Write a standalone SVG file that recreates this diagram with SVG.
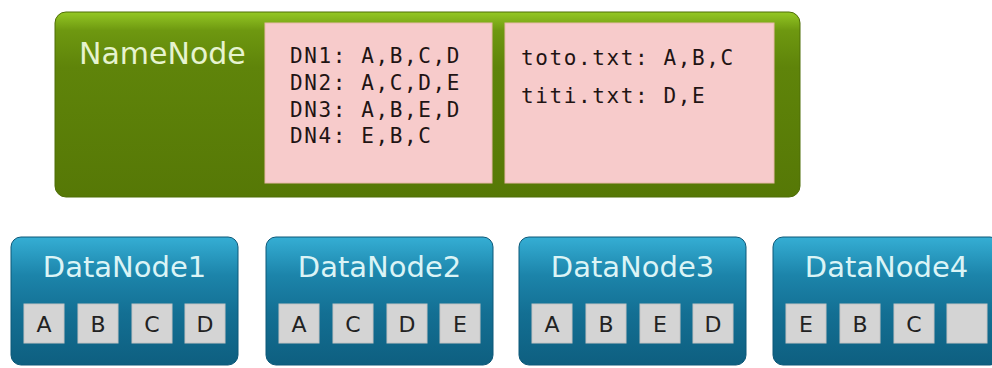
<svg xmlns="http://www.w3.org/2000/svg" width="992" height="368" viewBox="0 0 992 368">
<defs>
<linearGradient id="gGreen" x1="0" y1="0" x2="0" y2="1">
<stop offset="0" stop-color="#94c824"/>
<stop offset="0.1" stop-color="#6e9810"/>
<stop offset="0.3" stop-color="#5f840a"/>
<stop offset="1" stop-color="#567806"/>
</linearGradient>
<linearGradient id="gBlue" x1="0" y1="0" x2="0" y2="1">
<stop offset="0" stop-color="#35aed4"/>
<stop offset="0.3" stop-color="#1c84aa"/>
<stop offset="0.6" stop-color="#136f93"/>
<stop offset="1" stop-color="#0e5f80"/>
</linearGradient>
</defs>
<style>
.nn{fill:url(#gGreen);stroke:#4f6e06;stroke-width:1}
.pink{fill:#f7cbcb;stroke:#e9b9a9;stroke-width:1}
.mono{font-family:"DejaVu Sans Mono","Liberation Mono",monospace;font-size:21px;letter-spacing:1.6px;fill:#1f1414}
.title{font-family:"DejaVu Sans","Noto Sans",sans-serif;font-size:30px}
.nnt{fill:#e6f3cf}
.dn{fill:url(#gBlue);stroke:#0c5878;stroke-width:1}
.dnt{fill:#dbf4f6;font-size:29px;text-anchor:middle}
.blk{fill:#d4d4d4;stroke:#c4c4c4;stroke-width:1}
.bl{font-family:"DejaVu Sans","Noto Sans",sans-serif;font-size:22px;fill:#222;text-anchor:middle}
</style>
<rect width="992" height="368" fill="#ffffff"/>
<g id="NameNode">
<rect class="nn" x="55" y="12" width="745" height="185" rx="11"/>
<text class="title nnt" x="79" y="64">NameNode</text>
<rect class="pink" x="265" y="23" width="227" height="160"/>
<text class="mono" x="290" y="63">DN1: A,B,C,D</text>
<text class="mono" x="290" y="90">DN2: A,C,D,E</text>
<text class="mono" x="290" y="116.5">DN3: A,B,E,D</text>
<text class="mono" x="290" y="143">DN4: E,B,C</text>
<rect class="pink" x="505" y="23" width="269" height="160"/>
<text class="mono" x="521" y="65">toto.txt: A,B,C</text>
<text class="mono" x="521" y="103">titi.txt: D,E</text>
</g>
<g id="DataNode1">
<rect class="dn" x="11" y="237" width="227" height="128" rx="10"/>
<text class="title dnt" x="124.5" y="277">DataNode1</text>
<rect class="blk" x="24" y="304" width="40" height="39"/><text class="bl" x="44" y="332">A</text>
<rect class="blk" x="78" y="304" width="40" height="39"/><text class="bl" x="98" y="332">B</text>
<rect class="blk" x="132" y="304" width="40" height="39"/><text class="bl" x="152" y="332">C</text>
<rect class="blk" x="185" y="304" width="40" height="39"/><text class="bl" x="205" y="332">D</text>
</g>
<g id="DataNode2">
<rect class="dn" x="266" y="237" width="227" height="128" rx="10"/>
<text class="title dnt" x="379.5" y="277">DataNode2</text>
<rect class="blk" x="279" y="304" width="40" height="39"/><text class="bl" x="299" y="332">A</text>
<rect class="blk" x="333" y="304" width="40" height="39"/><text class="bl" x="353" y="332">C</text>
<rect class="blk" x="387" y="304" width="40" height="39"/><text class="bl" x="407" y="332">D</text>
<rect class="blk" x="440" y="304" width="40" height="39"/><text class="bl" x="460" y="332">E</text>
</g>
<g id="DataNode3">
<rect class="dn" x="519" y="237" width="227" height="128" rx="10"/>
<text class="title dnt" x="632.5" y="277">DataNode3</text>
<rect class="blk" x="532" y="304" width="40" height="39"/><text class="bl" x="552" y="332">A</text>
<rect class="blk" x="586" y="304" width="40" height="39"/><text class="bl" x="606" y="332">B</text>
<rect class="blk" x="640" y="304" width="40" height="39"/><text class="bl" x="660" y="332">E</text>
<rect class="blk" x="693" y="304" width="40" height="39"/><text class="bl" x="713" y="332">D</text>
</g>
<g id="DataNode4">
<rect class="dn" x="773" y="237" width="227" height="128" rx="10"/>
<text class="title dnt" x="886.5" y="277">DataNode4</text>
<rect class="blk" x="786" y="304" width="40" height="39"/><text class="bl" x="806" y="332">E</text>
<rect class="blk" x="840" y="304" width="40" height="39"/><text class="bl" x="860" y="332">B</text>
<rect class="blk" x="894" y="304" width="40" height="39"/><text class="bl" x="914" y="332">C</text>
<rect class="blk" x="947" y="304" width="40" height="39"/>
</g>
</svg>
